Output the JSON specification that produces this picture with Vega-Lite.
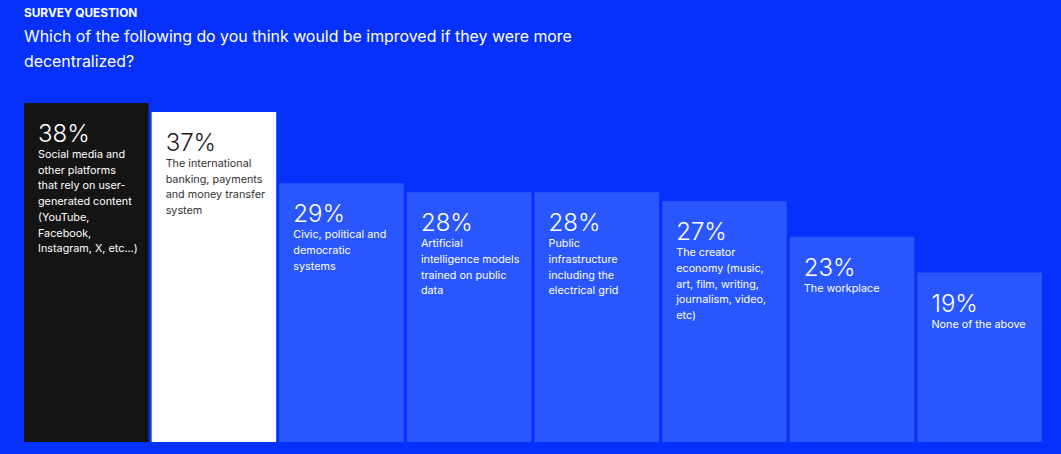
{
  "$schema": "https://vega.github.io/schema/vega-lite/v6.json",
  "width": 1018,
  "height": 339,
  "autosize": "none",
  "padding": {"left": 24, "top": 103, "right": 19, "bottom": 12},
  "background": "#0531fb",
  "config": {"view": {"stroke": null}, "font": "Inter"},
  "title": {
    "text": "SURVEY QUESTION",
    "subtitle": ["Which of the following do you think would be improved if they were more", "decentralized?"],
    "anchor": "start",
    "frame": "group",
    "offset": 33,
    "font": "Inter",
    "fontSize": 11.8,
    "fontWeight": "bold",
    "color": "#ffffff",
    "subtitleFont": "Inter",
    "subtitleFontSize": 15.9,
    "subtitleColor": "#ffffff",
    "subtitleLineHeight": 25,
    "subtitlePadding": 9
  },
  "data": {
    "values": [
      {"option": "Social media and other platforms that rely on user-generated content (YouTube, Facebook, Instagram, X, etc...)", "share": 0.38, "lines": ["Social media and", "other platforms", "that rely on user-", "generated content", "(YouTube,", "Facebook,", "Instagram, X, etc...)"]},
      {"option": "The international banking, payments and money transfer system", "share": 0.37, "lines": ["The international", "banking, payments", "and money transfer", "system"]},
      {"option": "Civic, political and democratic systems", "share": 0.29, "lines": ["Civic, political and", "democratic", "systems"]},
      {"option": "Artificial intelligence models trained on public data", "share": 0.28, "lines": ["Artificial", "intelligence models", "trained on public", "data"]},
      {"option": "Public infrastructure including the electrical grid", "share": 0.28, "lines": ["Public", "infrastructure", "including the", "electrical grid"]},
      {"option": "The creator economy (music, art, film, writing, journalism, video, etc)", "share": 0.27, "lines": ["The creator", "economy (music,", "art, film, writing,", "journalism, video,", "etc)"]},
      {"option": "The workplace", "share": 0.23, "lines": ["The workplace"]},
      {"option": "None of the above", "share": 0.19, "lines": ["None of the above"]}
    ]
  },
  "encoding": {
    "x": {"field": "option", "type": "nominal", "sort": null, "axis": null,
          "scale": {"paddingInner": 0.024, "paddingOuter": 0}},
    "y": {"field": "share", "type": "quantitative", "axis": null,
          "scale": {"domain": [0, 0.38], "nice": false}}
  },
  "layer": [
    {
      "mark": {"type": "bar", "cornerRadius": 0},
      "encoding": {
        "color": {
          "condition": [
            {"test": "datum.share == 0.38", "value": "#141414"},
            {"test": "datum.share == 0.37", "value": "#ffffff"}
          ],
          "value": "#2a56fd"
        }
      }
    },
    {
      "mark": {"type": "text", "align": "left", "baseline": "alphabetic", "dx": 14, "dy": 39, "fontSize": 24, "font": "Inter", "fontWeight": 300},
      "encoding": {
        "x": {"field": "option", "type": "nominal", "sort": null, "bandPosition": 0},
        "text": {"field": "share", "type": "quantitative", "format": ".0%"},
        "color": {
          "condition": [{"test": "datum.share == 0.37", "value": "#1c1c1c"}],
          "value": "#ffffff"
        }
      }
    },
    {
      "mark": {"type": "text", "align": "left", "baseline": "alphabetic", "dx": 14, "dy": 55, "fontSize": 10.8, "lineHeight": 15.7, "font": "Inter"},
      "encoding": {
        "x": {"field": "option", "type": "nominal", "sort": null, "bandPosition": 0},
        "text": {"field": "lines"},
        "color": {
          "condition": [{"test": "datum.share == 0.37", "value": "#333333"}],
          "value": "#ffffff"
        }
      }
    }
  ]
}
